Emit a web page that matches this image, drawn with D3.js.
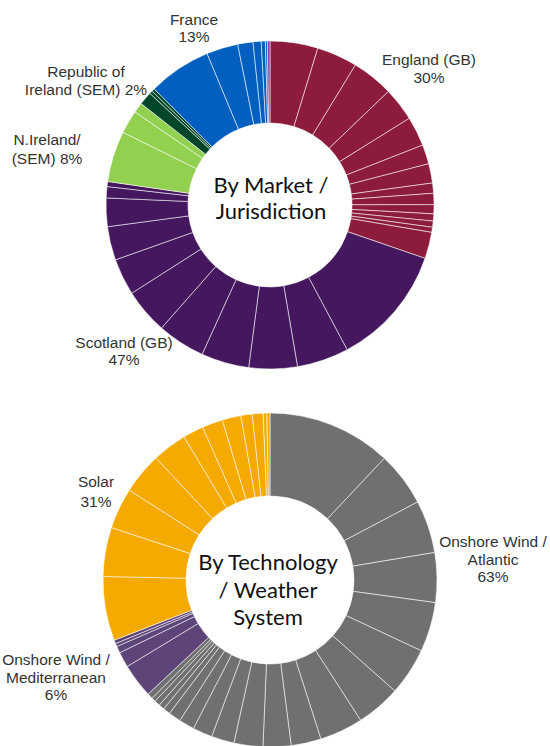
<!DOCTYPE html>
<html>
<head>
<meta charset="utf-8">
<script src="https://cdn.jsdelivr.net/npm/d3@7"></script>
<style>
  body { margin: 0; background: #fff; }
  .lbl { font-family: "Liberation Sans", Arial, sans-serif; font-size: 15.5px; fill: #333; }
  .centre { font-family: Lato, "Open Sans", sans-serif; font-size: 22px; fill: #111; }
</style>
</head>
<body>
<svg id="chart" width="550" height="746"></svg>
<script>
// --- market / jurisdiction (share of capacity, %, per asset, clockwise from 12 o'clock)
const marketGroups = ['England (GB)', 'Scotland (GB)', 'N.Ireland/ (SEM)', 'Republic of Ireland (SEM)', 'France', 'Other']
const englandSlices = [4.7, 4.0, 4.1, 3.3, 2.9, 1.9, 1.9, 1.0, 1.1, 0.9, 0.7, 0.6, 0.5, 2.6]
const scotlandSlices = [11.9, 5.1, 4.75, 4.7, 4.7, 4.45, 3.6, 3.3, 2.8, 1.1, 0.5]
const nirelandSlices = [5.0, 2.3, 1.0]
const roiSlices = [1.3, 0.3, 0.3]
const franceSlices = [6.2, 3.1, 1.5, 0.8, 0.4, 0.2]
const otherSlices = [0.25]
const marketColours = ['#8c1b3c', '#44175e', '#92d050', '#00472a', '#005fbf', '#7a3aa8']

// --- technology / weather system
const techGroups = ['Onshore Wind / Atlantic', 'Onshore Wind / Mediterranean', 'Solar']
const atlanticSlices = [12.0, 5.25, 5.1, 4.8, 4.8, 4.6, 4.3, 4.2, 2.9, 2.7, 2.8, 2.2, 1.9, 1.5, 1.2, 0.7, 0.55, 0.55, 0.4, 0.55]
const mediterraneanSlices = [3.3, 1.5, 0.65, 0.3, 0.35]
const solarSlices = [6.2, 4.75, 3.95, 4.0, 3.35, 2.0, 2.0, 1.8, 1.1, 1.05, 0.35, 0.3]
const techColours = ['#707070', '#5d4579', '#f4aa00']

function flatten (groups, sliceLists) {
  const rows = []
  sliceLists.forEach((list, g) => {
    list.forEach(v => rows.push({ group: g, name: groups[g], value: v }))
  })
  return rows
}

function donut (svg, rows, colours, cx, cy, rOuter, rInner) {
  const pie = d3.pie().sort(null).value(d => d.value)
  const arc = d3.arc().innerRadius(rInner).outerRadius(rOuter)
  const g = svg.append('g').attr('transform', `translate(${cx}, ${cy})`)
  g.selectAll('path')
    .data(pie(rows))
    .join('path')
    .attr('d', arc)
    .attr('fill', d => colours[d.data.group])
    .attr('stroke', 'rgba(255,255,255,0.55)')
    .attr('stroke-width', 1)
  return g
}

function label (svg, x, y, lines, cls, lineHeight) {
  const t = svg.append('text')
    .attr('class', cls)
    .attr('text-anchor', 'middle')
  lines.forEach((line, i) => {
    t.append('tspan')
      .attr('x', x)
      .attr('y', y + i * lineHeight)
      .text(line)
  })
}

const svg = d3.select('#chart')

donut(svg, flatten(marketGroups,
  [englandSlices, scotlandSlices, nirelandSlices, roiSlices, franceSlices, otherSlices]),
  marketColours, 270, 205, 164, 82)

donut(svg, flatten(techGroups, [atlanticSlices, mediterraneanSlices, solarSlices]),
  techColours, 270, 580, 167, 84)

// outside labels
label(svg, 194, 25, ['France', '13%'], 'lbl', 17)
label(svg, 429, 65, ['England (GB)', '30%'], 'lbl', 18)
label(svg, 86, 77, ['Republic of', 'Ireland (SEM) 2%'], 'lbl', 18)
label(svg, 47, 145, ['N.Ireland/', '(SEM) 8%'], 'lbl', 19)
label(svg, 124, 348, ['Scotland (GB)', '47%'], 'lbl', 17)
label(svg, 96, 487, ['Solar', '31%'], 'lbl', 20)
label(svg, 493, 547, ['Onshore Wind /', 'Atlantic', '63%'], 'lbl', 17.5)
label(svg, 56, 665, ['Onshore Wind /', 'Mediterranean', '6%'], 'lbl', 17.5)

// centre titles
label(svg, 271, 193, ['By Market /', 'Jurisdiction'], 'centre', 26)
label(svg, 268, 570, ['By Technology', '/ Weather', 'System'], 'centre', 27.5)
</script>
</body>
</html>
